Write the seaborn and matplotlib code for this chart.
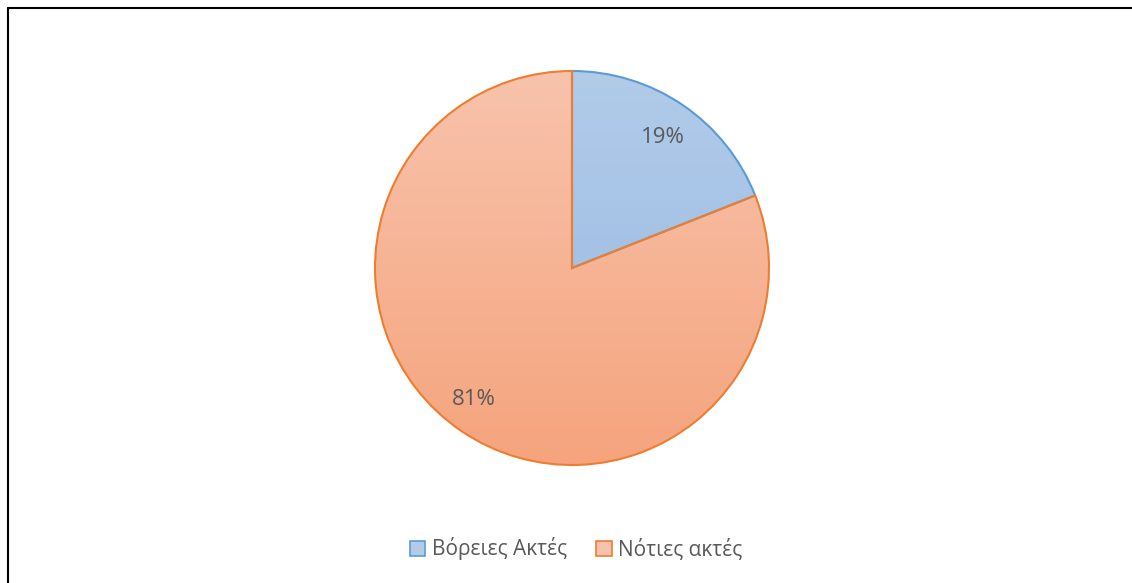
import numpy as np
import matplotlib
matplotlib.use("Agg")
import matplotlib.pyplot as plt
import seaborn as sns
from matplotlib.colors import LinearSegmentedColormap
from matplotlib.patches import Patch

categories = ["Βόρειες Ακτές", "Νότιες ακτές"]
values = [19, 81]
edge_colors = ["#5B9BD5", "#ED7D31"]
grad_top = ["#B1CBE9", "#F8C3AC"]
grad_bottom = ["#97B8E3", "#F5A47D"]

sns.set_theme(style="white")
plt.rcParams["font.family"] = ["Open Sans", "DejaVu Sans"]

W, H = 1132, 583
fig = plt.figure(figsize=(W / 100, H / 100), dpi=100)
fig.patch.set_facecolor("white")

cx, cy, r = 572, 268, 197
ax = fig.add_axes([(cx - r) / W, (H - cy - r) / H, 2 * r / W, 2 * r / H])
ax.set_xlim(-1, 1)
ax.set_ylim(-1, 1)
ax.set_aspect("equal")
ax.axis("off")

wedges, texts = ax.pie(values, startangle=90, counterclock=False, radius=1,
                       colors=grad_bottom,
                       wedgeprops=dict(linewidth=1.5))
for w, ec, top, bot in zip(wedges, edge_colors, grad_top, grad_bottom):
    w.set_edgecolor(ec)
    cmap = LinearSegmentedColormap.from_list("g", [bot, top])
    grad = np.linspace(0, 1, 256).reshape(-1, 1)
    im = ax.imshow(grad, cmap=cmap, extent=[-1, 1, -1, 1], origin="lower",
                   aspect="auto", zorder=1)
    im.set_clip_path(w)
    w.set_facecolor("none")
    w.set_zorder(3)

# percentage labels
label_radius = [0.82, 0.82]
label_angle_nudge = [0.0, -3.4]  # degrees
total = sum(values)
start = 90
for v, lr, nudge in zip(values, label_radius, label_angle_nudge):
    mid = start - 360 * v / total / 2 + nudge
    ang = np.deg2rad(mid)
    start -= 360 * v / total
    ax.annotate(f"{round(100 * v / total)}%", xy=(lr * np.cos(ang), lr * np.sin(ang)),
                xytext=(0, -2.2), textcoords="offset points",
                ha="center", va="center", fontsize=16, color="#595959", zorder=5)

ax.set_xlim(-1, 1)
ax.set_ylim(-1, 1)

handles = [Patch(facecolor=f, edgecolor=e, linewidth=1.2)
           for f, e in zip(grad_top, edge_colors)]
fig.legend(handles, categories, loc="center", bbox_to_anchor=(576 / W, 1 - 549 / H),
           ncol=2, frameon=False, fontsize=15, labelcolor="#595959",
           handlelength=0.75, handleheight=0.75, handletextpad=0.3, columnspacing=1.4)

# outer border (top and left visible)
fig.add_artist(plt.Line2D([7.5 / W, 7.5 / W], [0, 1 - 7.5 / H], color="black",
                          linewidth=1.5, transform=fig.transFigure))
fig.add_artist(plt.Line2D([7.5 / W, 1], [1 - 7.5 / H, 1 - 7.5 / H], color="black",
                          linewidth=1.5, transform=fig.transFigure))

fig.savefig("out.png", dpi=100)
